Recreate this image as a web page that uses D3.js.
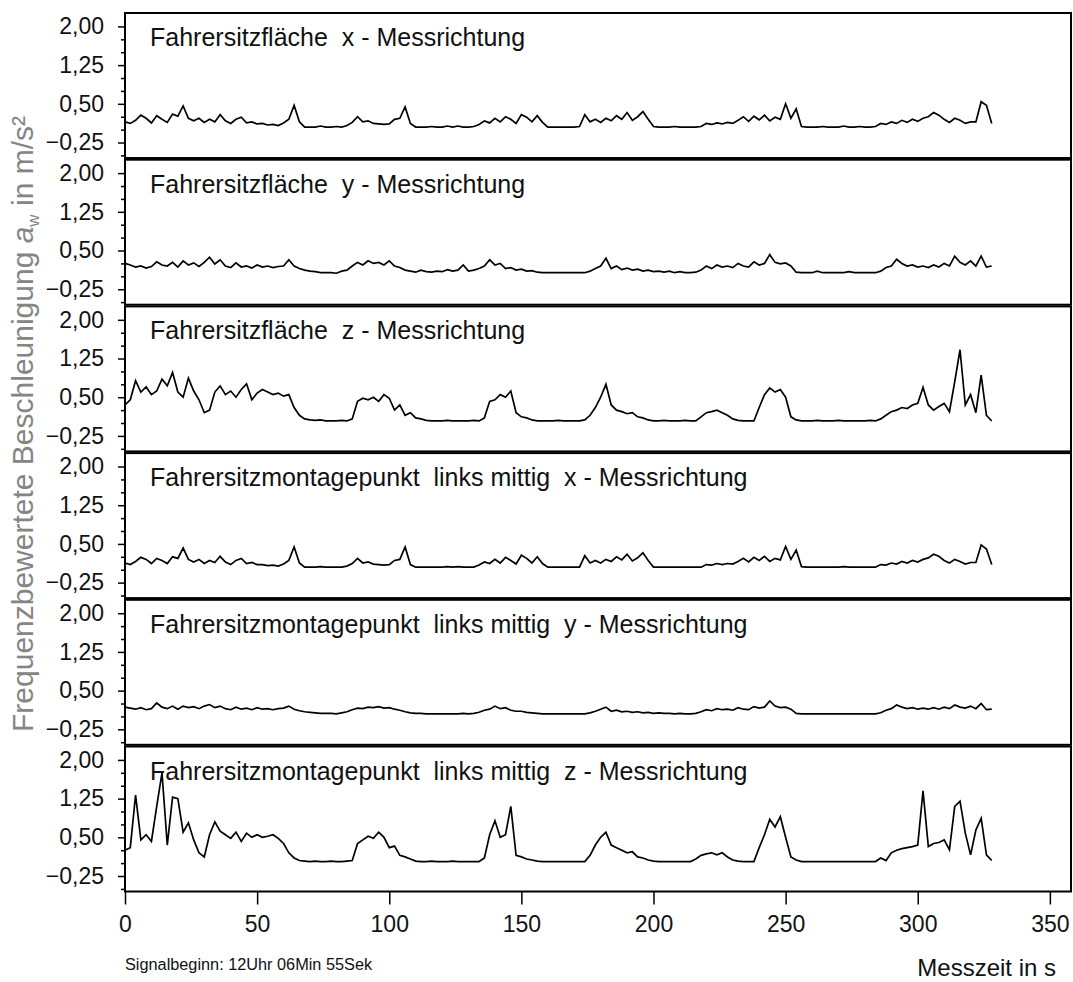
<!DOCTYPE html>
<html><head><meta charset="utf-8">
<script src="https://cdn.jsdelivr.net/npm/d3@7"></script>
<style>
body{margin:0;background:#fff}
svg{display:block}
text{font-family:"Liberation Sans",Arial,sans-serif}
</style>
</head><body><svg id="c" width="1073" height="982"></svg>
<script>
// sampling interval of the series (seconds)
const sampleStep = 2;

const seatX = [
0.15,0.12,0.18,0.28,0.22,0.13,0.27,0.2,0.14,0.3,
0.26,0.46,0.22,0.17,0.22,0.14,0.2,0.15,0.29,0.17,
0.12,0.2,0.24,0.13,0.15,0.11,0.12,0.09,0.1,0.08,
0.13,0.2,0.47,0.15,0.05,0.05,0.05,0.07,0.05,0.05,
0.06,0.05,0.08,0.14,0.25,0.15,0.17,0.12,0.11,0.1,
0.11,0.2,0.22,0.44,0.12,0.05,0.05,0.05,0.06,0.05,
0.05,0.07,0.05,0.07,0.05,0.05,0.06,0.1,0.17,0.13,
0.22,0.15,0.25,0.2,0.12,0.29,0.24,0.15,0.27,0.14,
0.05,0.05,0.05,0.05,0.05,0.05,0.06,0.29,0.15,0.2,
0.14,0.22,0.17,0.27,0.2,0.33,0.18,0.25,0.35,0.2,
0.06,0.05,0.05,0.05,0.06,0.05,0.05,0.05,0.05,0.06,
0.12,0.1,0.13,0.11,0.14,0.12,0.18,0.25,0.16,0.26,
0.19,0.28,0.17,0.24,0.2,0.5,0.22,0.4,0.06,0.05,
0.05,0.05,0.06,0.05,0.05,0.05,0.07,0.05,0.05,0.06,
0.05,0.05,0.06,0.12,0.1,0.15,0.12,0.18,0.14,0.2,
0.16,0.22,0.25,0.33,0.28,0.2,0.14,0.22,0.18,0.12,
0.15,0.15,0.54,0.47,0.12];

const seatY = [
0.25,0.22,0.18,0.2,0.16,0.19,0.28,0.22,0.2,0.27,
0.18,0.3,0.22,0.26,0.19,0.27,0.37,0.24,0.32,0.2,
0.17,0.26,0.18,0.2,0.16,0.22,0.18,0.2,0.17,0.19,
0.2,0.32,0.2,0.15,0.12,0.1,0.09,0.07,0.07,0.07,
0.06,0.1,0.12,0.2,0.27,0.22,0.3,0.25,0.27,0.22,
0.3,0.2,0.17,0.12,0.1,0.08,0.12,0.09,0.08,0.1,
0.09,0.13,0.1,0.12,0.22,0.1,0.12,0.15,0.2,0.32,
0.22,0.25,0.15,0.17,0.12,0.14,0.1,0.11,0.08,0.07,
0.07,0.07,0.07,0.07,0.07,0.07,0.07,0.07,0.1,0.15,
0.2,0.35,0.15,0.2,0.13,0.16,0.12,0.14,0.1,0.12,
0.09,0.1,0.08,0.1,0.07,0.09,0.07,0.07,0.08,0.12,
0.2,0.15,0.22,0.18,0.2,0.17,0.25,0.2,0.18,0.28,
0.22,0.25,0.42,0.27,0.24,0.26,0.2,0.08,0.07,0.07,
0.07,0.1,0.07,0.07,0.07,0.07,0.07,0.09,0.07,0.07,
0.07,0.07,0.07,0.1,0.17,0.2,0.33,0.25,0.2,0.22,
0.18,0.2,0.17,0.22,0.18,0.25,0.2,0.39,0.27,0.22,
0.3,0.2,0.39,0.18,0.2];

const seatZ = [
0.35,0.45,0.82,0.6,0.7,0.55,0.62,0.85,0.72,0.98,
0.6,0.5,0.87,0.62,0.45,0.2,0.25,0.6,0.72,0.55,
0.62,0.5,0.65,0.76,0.45,0.58,0.65,0.6,0.55,0.58,
0.52,0.55,0.3,0.15,0.08,0.06,0.05,0.06,0.04,0.04,
0.04,0.05,0.04,0.08,0.42,0.48,0.45,0.5,0.42,0.55,
0.48,0.25,0.35,0.15,0.2,0.1,0.08,0.05,0.04,0.04,
0.04,0.05,0.04,0.04,0.04,0.04,0.05,0.04,0.1,0.42,
0.45,0.55,0.5,0.62,0.2,0.12,0.1,0.06,0.04,0.04,
0.04,0.04,0.05,0.04,0.04,0.04,0.04,0.06,0.15,0.3,
0.5,0.75,0.35,0.25,0.22,0.18,0.2,0.12,0.1,0.06,
0.04,0.04,0.05,0.04,0.04,0.04,0.05,0.04,0.04,0.12,
0.2,0.22,0.25,0.2,0.15,0.08,0.05,0.04,0.04,0.04,
0.3,0.55,0.68,0.6,0.65,0.5,0.12,0.06,0.04,0.04,
0.04,0.05,0.04,0.04,0.04,0.05,0.04,0.04,0.04,0.04,
0.04,0.05,0.04,0.08,0.15,0.22,0.25,0.3,0.28,0.35,
0.38,0.69,0.35,0.25,0.32,0.38,0.22,0.8,1.42,0.35,
0.55,0.2,0.93,0.15,0.04];

const mountX = [
0.13,0.1,0.16,0.24,0.2,0.12,0.22,0.18,0.12,0.25,
0.22,0.42,0.2,0.15,0.2,0.12,0.18,0.14,0.26,0.15,
0.1,0.18,0.22,0.12,0.14,0.1,0.1,0.08,0.09,0.07,
0.11,0.18,0.44,0.13,0.05,0.05,0.05,0.06,0.05,0.05,
0.05,0.05,0.07,0.12,0.22,0.13,0.15,0.11,0.1,0.09,
0.1,0.18,0.2,0.44,0.1,0.05,0.05,0.05,0.05,0.05,
0.05,0.06,0.05,0.06,0.05,0.05,0.05,0.09,0.15,0.12,
0.2,0.13,0.24,0.18,0.11,0.28,0.22,0.13,0.25,0.12,
0.05,0.05,0.05,0.05,0.05,0.05,0.05,0.27,0.13,0.18,
0.13,0.2,0.16,0.25,0.19,0.3,0.17,0.23,0.33,0.18,
0.05,0.05,0.05,0.05,0.05,0.05,0.05,0.05,0.05,0.05,
0.1,0.09,0.12,0.1,0.12,0.11,0.16,0.22,0.15,0.24,
0.18,0.26,0.16,0.22,0.19,0.45,0.2,0.38,0.06,0.05,
0.05,0.05,0.05,0.05,0.05,0.05,0.06,0.05,0.05,0.05,
0.05,0.05,0.05,0.1,0.09,0.13,0.11,0.16,0.13,0.18,
0.15,0.2,0.23,0.3,0.26,0.18,0.13,0.2,0.16,0.11,
0.14,0.14,0.48,0.4,0.1];

const mountY = [
0.18,0.16,0.14,0.17,0.13,0.15,0.26,0.18,0.15,0.2,
0.14,0.2,0.17,0.19,0.15,0.2,0.23,0.17,0.2,0.15,
0.13,0.18,0.14,0.16,0.13,0.17,0.14,0.15,0.13,0.15,
0.16,0.2,0.14,0.11,0.09,0.08,0.07,0.06,0.06,0.06,
0.05,0.07,0.09,0.13,0.16,0.15,0.18,0.17,0.19,0.16,
0.17,0.14,0.12,0.09,0.07,0.06,0.06,0.05,0.05,0.05,
0.05,0.05,0.05,0.05,0.06,0.05,0.06,0.08,0.12,0.14,
0.2,0.15,0.17,0.12,0.1,0.1,0.08,0.07,0.06,0.05,
0.05,0.05,0.05,0.05,0.05,0.05,0.05,0.05,0.07,0.1,
0.14,0.18,0.1,0.12,0.09,0.1,0.08,0.09,0.07,0.08,
0.06,0.07,0.06,0.06,0.05,0.06,0.05,0.05,0.06,0.09,
0.13,0.11,0.15,0.13,0.14,0.12,0.17,0.14,0.13,0.19,
0.16,0.18,0.3,0.2,0.17,0.18,0.14,0.06,0.05,0.05,
0.05,0.05,0.05,0.05,0.05,0.05,0.05,0.05,0.05,0.05,
0.05,0.05,0.05,0.07,0.12,0.15,0.22,0.18,0.15,0.17,
0.14,0.16,0.14,0.17,0.14,0.18,0.15,0.22,0.18,0.16,
0.2,0.15,0.25,0.13,0.14];

const mountZ = [
0.25,0.3,1.32,0.45,0.55,0.42,1.1,1.75,0.35,1.28,
1.25,0.6,0.78,0.45,0.2,0.12,0.55,0.8,0.62,0.55,
0.48,0.6,0.42,0.58,0.5,0.55,0.5,0.52,0.55,0.48,
0.38,0.2,0.1,0.05,0.04,0.03,0.04,0.03,0.03,0.04,
0.03,0.03,0.04,0.05,0.38,0.45,0.52,0.48,0.6,0.5,
0.3,0.33,0.15,0.12,0.08,0.04,0.03,0.03,0.04,0.03,
0.03,0.03,0.04,0.03,0.03,0.03,0.03,0.03,0.1,0.55,
0.82,0.5,0.55,1.1,0.15,0.12,0.08,0.06,0.04,0.03,
0.03,0.03,0.03,0.03,0.03,0.03,0.03,0.03,0.15,0.35,
0.5,0.6,0.35,0.3,0.25,0.2,0.22,0.12,0.1,0.06,
0.04,0.03,0.03,0.03,0.03,0.03,0.03,0.03,0.08,0.15,
0.18,0.2,0.16,0.2,0.12,0.06,0.04,0.03,0.03,0.03,
0.3,0.55,0.85,0.7,0.9,0.5,0.12,0.06,0.03,0.03,
0.03,0.03,0.03,0.03,0.03,0.03,0.03,0.03,0.03,0.03,
0.03,0.03,0.03,0.1,0.05,0.2,0.25,0.28,0.3,0.32,
0.35,1.4,0.32,0.38,0.4,0.45,0.26,1.1,1.2,0.58,
0.16,0.64,0.87,0.16,0.05];

const panelTitles = [
  "Fahrersitzfläche  x - Messrichtung",
  "Fahrersitzfläche  y - Messrichtung",
  "Fahrersitzfläche  z - Messrichtung",
  "Fahrersitzmontagepunkt  links mittig  x - Messrichtung",
  "Fahrersitzmontagepunkt  links mittig  y - Messrichtung",
  "Fahrersitzmontagepunkt  links mittig  z - Messrichtung"
];
const seriesList = [seatX, seatY, seatZ, mountX, mountY, mountZ];
const yMajorTicks = [2.0, 1.25, 0.5, -0.25];
const yMinorTicks = [-0.5, 0, 0.25, 0.75, 1.0, 1.5, 1.75];
const xTicks = [0, 50, 100, 150, 200, 250, 300, 350];
const yDomain = [-0.55, 2.26];
const xDomain = [0, 358];

const svg = d3.select("#c");
const left = 125, right = 1071;
const panelTop0 = 13, panelStep = 146.7, panelH = 145;
const x = d3.scaleLinear().domain(xDomain).range([left, right]);
const fmt = d => d3.format(".2f")(d).replace(".", ",");

seriesList.forEach((s, i) => {
  const top = panelTop0 + i * panelStep;
  const y = d3.scaleLinear().domain(yDomain).range([top + panelH, top]);
  const g = svg.append("g");

  const line = d3.line()
    .x((d, j) => x(j * sampleStep))
    .y(d => y(d))
    .curve(d3.curveLinear);
  g.append("path").datum(s).attr("d", line)
    .attr("fill", "none").attr("stroke", "#000")
    .attr("stroke-width", 1.7).attr("stroke-linejoin", "miter");

  g.append("rect").attr("x", left).attr("y", top)
    .attr("width", right - left).attr("height", panelH)
    .attr("fill", "none").attr("stroke", "#000").attr("stroke-width", 2);

  const axMinor = g.append("g").attr("transform", `translate(${left},0)`)
    .call(d3.axisLeft(y).tickValues(yMinorTicks).tickSize(4).tickFormat(""));
  axMinor.select(".domain").remove();
  axMinor.selectAll("line").attr("stroke", "#000").attr("stroke-width", 1.5);

  const axMajor = g.append("g").attr("transform", `translate(${left},0)`)
    .call(d3.axisLeft(y).tickValues(yMajorTicks).tickSize(7).tickPadding(14).tickFormat(fmt));
  axMajor.select(".domain").remove();
  axMajor.selectAll("line").attr("stroke", "#000").attr("stroke-width", 1.5);
  axMajor.selectAll("text").attr("font-size", 23).attr("fill", "#111")
    .attr("font-family", "Liberation Sans, Arial, sans-serif");

  g.append("text").attr("x", 150).attr("y", top + 33)
    .attr("font-size", 25).attr("fill", "#111")
    .style("white-space", "pre").text(panelTitles[i]);
});

const bottom = panelTop0 + 5 * panelStep + panelH;
const axX = svg.append("g").attr("transform", `translate(0,${bottom})`)
  .call(d3.axisBottom(x).tickValues(xTicks).tickSize(13).tickPadding(11));
axX.select(".domain").remove();
axX.selectAll("line").attr("stroke", "#000").attr("stroke-width", 1.5);
axX.selectAll("text").attr("font-size", 23).attr("fill", "#111")
  .attr("font-family", "Liberation Sans, Arial, sans-serif");

svg.append("text").attr("x", 125).attr("y", 970).attr("font-size", 16.3)
  .attr("fill", "#111").text("Signalbeginn: 12Uhr 06Min 55Sek");
svg.append("text").attr("x", 1056).attr("y", 976).attr("font-size", 24)
  .attr("text-anchor", "end").attr("fill", "#111").text("Messzeit in s");

const yl = svg.append("text").attr("transform", "translate(33,424) rotate(-90)")
  .attr("text-anchor", "middle").attr("font-size", 30).attr("fill", "#858585");
yl.append("tspan").text("Frequenzbewertete Beschleunigung ");
yl.append("tspan").attr("font-style", "italic").text("a");
yl.append("tspan").attr("font-size", 17).attr("dy", 6).text("w");
yl.append("tspan").attr("dy", -6).text(" in m/s²");
</script>
</body></html>
